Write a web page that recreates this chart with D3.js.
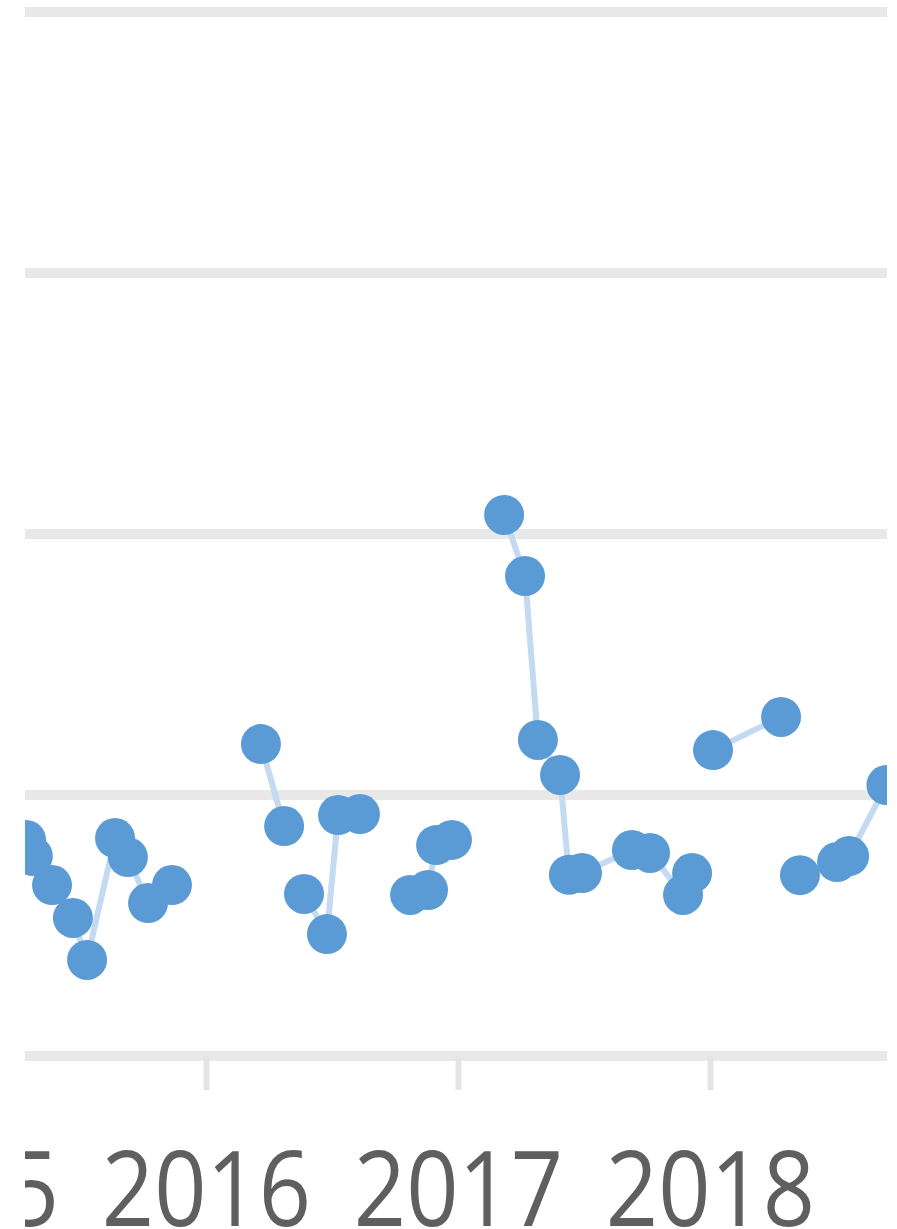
<!DOCTYPE html>
<meta charset="utf-8">
<style>
body { margin: 0; background: #fff; }
.grid line { stroke: #e8e8e8; stroke-width: 10px; }
.xaxis .domain { display: none; }
.xaxis line { stroke: #e4e4e4; stroke-width: 6px; }
.xaxis text { fill: #5f5f5f; font-family: "Open Sans", "Liberation Sans", sans-serif; font-size: 104px; }
.series { fill: none; stroke: #c3daf0; stroke-width: 6px; stroke-linejoin: round; }
.dot { fill: #5b9bd5; }
</style>
<body>
<svg id="chart"></svg>

<script src="https://d3js.org/d3.v7.min.js"></script>
<script>

// dates as decimal years, null value = break in the line
var years = [2015.286, 2015.313, 2015.389, 2015.472, 2015.528, 2015.639, 2015.690, 2015.770, 2015.865,
             2016.05,
             2016.218, 2016.310,
             2016.35,
             2016.389, 2016.480, 2016.524, 2016.611,
             2016.70,
             2016.810, 2016.881, 2016.913, 2016.976,
             2017.08,
             2017.183, 2017.266, 2017.317, 2017.405, 2017.440, 2017.492, 2017.690, 2017.762, 2017.893, 2017.929,
             2017.97,
             2018.012, 2018.282,
             2018.32,
             2018.357, 2018.504, 2018.552, 2018.700, 2018.800];

var values = [0.828, 0.766, 0.655, 0.529, 0.368, 0.835, 0.762, 0.586, 0.655,
              null,
              1.195, 0.881,
              null,
              0.621, 0.467, 0.923, 0.927,
              null,
              0.617, 0.636, 0.808, 0.828,
              null,
              2.073, 1.839, 1.211, 1.077, 0.694, 0.701, 0.789, 0.778, 0.617, 0.701,
              null,
              1.172, 1.299,
              null,
              0.693, 0.743, 0.766, 1.038, 0.690];

var gridValues = [0, 1, 2, 3, 4];
var tickYears = [2015, 2016, 2017, 2018];

var width = 897,
    height = 1229;

var x = d3.scaleLinear()
    .domain([2016, 2018])
    .range([206, 710]);

var y = d3.scaleLinear()
    .domain([0, 4])
    .range([1056, 12]);

var svg = d3.select("#chart")
    .attr("width", width)
    .attr("height", height);

svg.append("clipPath")
    .attr("id", "plot-clip")
  .append("rect")
    .attr("x", 25)
    .attr("y", 0)
    .attr("width", 887 - 25)
    .attr("height", height);

var g = svg.append("g")
    .attr("clip-path", "url(#plot-clip)");

g.append("g")
    .attr("class", "grid")
  .selectAll("line")
  .data(gridValues)
  .enter().append("line")
    .attr("x1", 25)
    .attr("x2", 887)
    .attr("y1", function(d) { return y(d); })
    .attr("y2", function(d) { return y(d); });

var xAxis = g.append("g")
    .attr("class", "xaxis")
    .attr("transform", "translate(0," + y(0) + ")")
    .call(d3.axisBottom(x)
      .tickValues(tickYears)
      .tickSize(34)
      .tickPadding(62)
      .tickFormat(d3.format("d")));

xAxis.selectAll("text")
    .attr("dy", "0.71em")
    .attr("transform", "scale(0.88,1)");

var pts = years.map(function(t, i) { return { t: t, v: values[i] }; });

var line = d3.line()
    .defined(function(d) { return d.v != null; })
    .x(function(d) { return x(d.t); })
    .y(function(d) { return y(d.v); });

g.append("path")
    .datum(pts)
    .attr("class", "series")
    .attr("d", line);

g.selectAll(".dot")
    .data(pts.filter(function(d) { return d.v != null; }))
  .enter().append("circle")
    .attr("class", "dot")
    .attr("cx", function(d) { return x(d.t); })
    .attr("cy", function(d) { return y(d.v); })
    .attr("r", 20);

</script>
